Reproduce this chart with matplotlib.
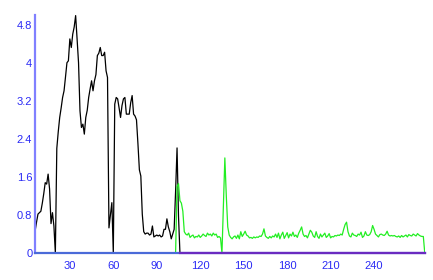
import matplotlib
matplotlib.use("Agg")
import matplotlib.pyplot as plt

# black series, one value per x from 6 to 106
black_x = list(range(6, 107))
black_y = [0.46, 0.65, 0.82, 0.85, 0.88, 1.05, 1.25, 1.48, 1.45, 1.66,
           1.35, 0.62, 0.85, 0.57, 0.0, 2.2, 2.55, 2.85, 3.05, 3.27,
           3.41, 3.7, 4.0, 4.04, 4.5, 4.32, 4.6, 4.75, 4.99, 4.5,
           4.0, 2.99, 2.64, 2.71, 2.5, 2.85, 3.0, 3.27, 3.45, 3.62,
           3.41, 3.62, 3.75, 4.15, 4.2, 4.32, 4.15, 4.15, 4.22, 3.83,
           3.69, 0.53, 0.8, 1.06, 0.0, 3.13, 3.27, 3.24, 3.05, 2.85,
           3.1, 3.24, 3.27, 2.92, 2.92, 2.92, 3.16, 3.31, 2.92, 2.88,
           2.8, 2.3, 1.75, 1.62, 0.82, 0.45, 0.4, 0.42, 0.42, 0.38,
           0.4, 0.57, 0.34, 0.36, 0.38, 0.36, 0.38, 0.34, 0.36, 0.5,
           0.5, 0.72, 0.55, 0.45, 0.3, 0.4, 0.5, 1.3, 2.21, 0.78,
           0.0]

# green series, one value per x from 103 to 275
green_x = list(range(103, 276))
green_y = [0.0, 1.40, 1.46, 1.10, 1.05, 0.88, 0.45, 0.40, 0.38, 0.42,
           0.33, 0.36, 0.38, 0.32, 0.35, 0.34, 0.38, 0.33, 0.36, 0.40,
           0.37, 0.35, 0.42, 0.38, 0.40, 0.36, 0.42, 0.38, 0.40, 0.33,
           0.35, 0.32, 0.0, 1.0, 2.0, 1.2, 0.55, 0.38, 0.33, 0.30,
           0.34, 0.36, 0.31, 0.38, 0.30, 0.45, 0.35, 0.40, 0.46, 0.38,
           0.36, 0.32, 0.33, 0.31, 0.34, 0.32, 0.34, 0.33, 0.36, 0.35,
           0.40, 0.51, 0.36, 0.33, 0.31, 0.35, 0.32, 0.36, 0.34, 0.40,
           0.33, 0.42, 0.30, 0.38, 0.44, 0.31, 0.37, 0.43, 0.32, 0.40,
           0.36, 0.44, 0.35, 0.38, 0.33, 0.42, 0.48, 0.55, 0.40, 0.35,
           0.37, 0.32, 0.40, 0.48, 0.44, 0.36, 0.33, 0.45, 0.35, 0.31,
           0.40, 0.34, 0.38, 0.42, 0.33, 0.36, 0.41, 0.32, 0.35, 0.34,
           0.37, 0.36, 0.38, 0.37, 0.40, 0.38, 0.50, 0.60, 0.65, 0.45,
           0.36, 0.34, 0.42, 0.38, 0.37, 0.35, 0.40, 0.38, 0.44, 0.33,
           0.36, 0.45, 0.38, 0.37, 0.39, 0.45, 0.58, 0.50, 0.40, 0.37,
           0.34, 0.39, 0.40, 0.38, 0.37, 0.40, 0.46, 0.38, 0.36, 0.37,
           0.36, 0.37, 0.35, 0.34, 0.36, 0.33, 0.37, 0.34, 0.36, 0.38,
           0.34, 0.39, 0.37, 0.36, 0.40, 0.38, 0.36, 0.41, 0.38, 0.36,
           0.35, 0.35, 0.0]

# flat purple series along zero
base_x = [106, 275]
base_y = [0.0, 0.0]

x_ticks = [30, 60, 90, 120, 150, 180, 210, 240]
y_ticks = [0, 0.8, 1.6, 2.4, 3.2, 4.0, 4.8]
y_labels = ["0", "0.8", "1.6", "2.4", "3.2", "4", "4.8"]

plt.rcParams['font.family'] = ['Liberation Sans', 'DejaVu Sans']

fig = plt.figure(figsize=(4.33, 2.8), dpi=100)
ax = fig.add_axes([0.081, 0.096, 0.9, 0.85])

ax.plot(black_x, black_y, color='black', linewidth=0.9)
ax.plot(green_x, green_y, color='#22ee22', linewidth=0.9)
ax.plot(base_x, base_y, color='#6a2bc0', linewidth=1.6, clip_on=False, zorder=5)

ax.set_xlim(6, 275)
ax.set_ylim(0, 5.0)
ax.set_xticks(x_ticks)
ax.set_yticks(y_ticks)
ax.set_yticklabels(y_labels)

ax.tick_params(axis='both', length=0, labelsize=8, labelcolor='#2a2af5')
ax.tick_params(axis='x', pad=5.5)
ax.tick_params(axis='y', pad=2)

ax.spines['top'].set_visible(False)
ax.spines['right'].set_visible(False)
ax.spines['left'].set_color('#8080ff')
ax.spines['left'].set_linewidth(1.6)
ax.spines['bottom'].set_color('#4a6ad8')
ax.spines['bottom'].set_linewidth(1.6)

fig.savefig('out.png', dpi=100)
